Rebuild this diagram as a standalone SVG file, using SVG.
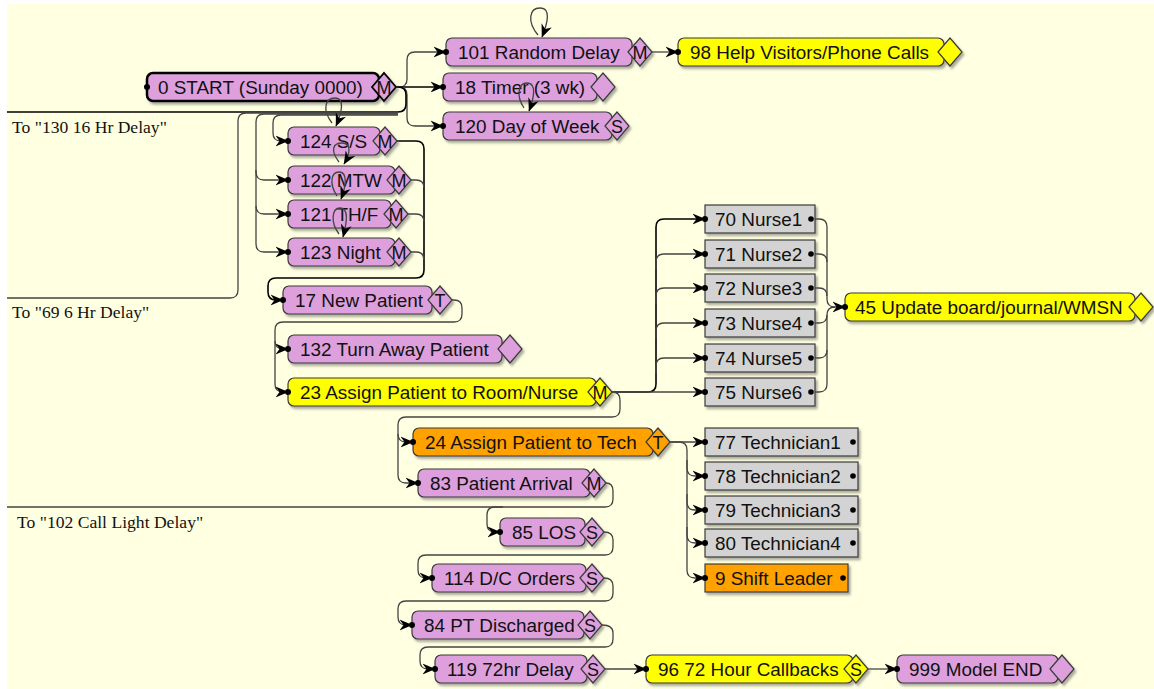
<svg xmlns="http://www.w3.org/2000/svg" width="1154" height="689" viewBox="0 0 1154 689">
  <style>
    .lbl { font-family: "Liberation Sans", Arial, sans-serif; font-size: 18.9px; fill: #111; }
    .port { font-family: "Liberation Sans", Arial, sans-serif; font-size: 18px; fill: #111; text-anchor: middle; }
    .note { font-family: "Liberation Serif", "Times New Roman", serif; font-size: 17.6px; fill: #111; }
    .box { stroke: #3a3a3a; stroke-width: 1.2; }
    .pink { fill: #DDA0DD; }
    .yel { fill: #FFFF00; }
    .org { fill: #FFA200; }
    .gry { fill: #D3D3D3; }
    .dot { fill: #000; }
    .ln { fill: none; stroke: #444; stroke-width: 1.3; }
    .ln.dark { stroke: #000; stroke-width: 1.6; }
  </style>
  <defs>
    <filter id="sh" x="-5%" y="-20%" width="115%" height="160%">
      <feDropShadow dx="2" dy="2.5" stdDeviation="1.2" flood-color="#666" flood-opacity="0.55"/>
    </filter>
    <marker id="arr" viewBox="0 0 14 12" markerWidth="14" markerHeight="12" refX="12.5" refY="6" orient="auto" markerUnits="userSpaceOnUse">
      <path d="M0,0.5 L13,6 L0,11.5 L4,6 Z" fill="#000"/>
    </marker>
  </defs>

  <!-- canvas -->
  <rect x="0" y="0" width="1154" height="689" fill="#fff"/>
  <rect x="7" y="4" width="1147" height="685" fill="#FFFFE1"/>

  <!-- off-page labels -->
  <text class="note" x="12" y="133">To "130 16 Hr Delay"</text>
  <text class="note" x="12" y="318">To "69 6 Hr Delay"</text>
  <text class="note" x="17" y="528">To "102 Call Light Delay"</text>

  <!-- connectors -->
  <g id="connectors">
    <path class="ln" d="M396,87 H399 Q407,87 407,79 V60 Q407,52 415,52 H446" marker-end="url(#arr)"/>
    <path class="ln dark" d="M396,87 H443" marker-end="url(#arr)"/>
    <path class="ln" d="M396,87 H399 Q407,87 407,95 V118 Q407,126 415,126 H443" marker-end="url(#arr)"/>
    <path class="ln dark" d="M396,87 H398 Q406,87 406,95 V104 Q406,112 398,112 H7"/>
    <path class="ln" d="M398,113 H246 Q238,113 238,121 V290 Q238,298 230,298 H7"/>
    <path class="ln" d="M398,114 H264 Q256,114 256,122 V172 Q256,180 264,180 H288" marker-end="url(#arr)"/>
    <path class="ln" d="M256,170 V206 Q256,214 264,214 H288" marker-end="url(#arr)"/>
    <path class="ln" d="M256,206 V244 Q256,252 264,252 H288" marker-end="url(#arr)"/>
    <path class="ln" d="M398,115 H281 Q273,115 273,123 V133 Q273,141 281,141 H288" marker-end="url(#arr)"/>

    <!-- shifts into new patient -->
    <path class="ln dark" d="M397,141 H416 Q424,141 424,149 V270 Q424,278 416,278 H276 Q268,278 268,286 V292 Q268,300 276,300 H283" marker-end="url(#arr)"/>
    <path class="ln" d="M411,180 H416 Q424,180 424,188"/>
    <path class="ln" d="M408,214 H416 Q424,214 424,222"/>
    <path class="ln" d="M411,252 H416 Q424,252 424,260"/>

    <path class="ln" d="M452,300 H454 Q462,300 462,308 V314 Q462,322 454,322 H283 Q275,322 275,330 V341 Q275,349 283,349 H288" marker-end="url(#arr)"/>
    <path class="ln" d="M275,341 V384 Q275,392 283,392 H288" marker-end="url(#arr)"/>

    <!-- nurse assignment -->
    <path class="ln dark" d="M612,392 H648 Q656,392 656,384 V227 Q656,219 664,219 H705" marker-end="url(#arr)"/>
    <path class="ln" d="M612,392 H705" marker-end="url(#arr)"/>
    <path class="ln" d="M656,270 V262 Q656,254 664,254 H705" marker-end="url(#arr)"/>
    <path class="ln" d="M656,304 V296 Q656,288 664,288 H705" marker-end="url(#arr)"/>
    <path class="ln" d="M656,339 V331 Q656,323 664,323 H705" marker-end="url(#arr)"/>
    <path class="ln" d="M656,374 V366 Q656,358 664,358 H705" marker-end="url(#arr)"/>

    <path class="ln" d="M811,219 H819 Q827,219 827,227 V299 Q827,307 835,307 H845" marker-end="url(#arr)"/>
    <path class="ln" d="M811,254 H819 Q827,254 827,262"/>
    <path class="ln" d="M811,288 H819 Q827,288 827,296"/>
    <path class="ln" d="M811,323 H819 Q827,323 827,315"/>
    <path class="ln" d="M811,358 H819 Q827,358 827,350"/>
    <path class="ln" d="M811,392 H819 Q827,392 827,384 V315 Q827,307 835,307"/>

    <!-- technician assignment -->
    <path class="ln" d="M612,392 Q620,392 620,400 V409 Q620,417 612,417 H406 Q398,417 398,425 V434 Q398,442 406,442 H413" marker-end="url(#arr)"/>
    <path class="ln" d="M398,434 V475 Q398,483 406,483 H418" marker-end="url(#arr)"/>

    <path class="ln" d="M670,442 H705" marker-end="url(#arr)"/>
    <path class="ln" d="M670,442 H679 Q687,442 687,450 V570 Q687,578 695,578 H705" marker-end="url(#arr)"/>
    <path class="ln" d="M687,460 V468 Q687,476 695,476 H705" marker-end="url(#arr)"/>
    <path class="ln" d="M687,494 V502 Q687,510 695,510 H705" marker-end="url(#arr)"/>
    <path class="ln" d="M687,527 V535 Q687,543 695,543 H705" marker-end="url(#arr)"/>

    <!-- patient flow -->
    <path class="ln" d="M606,483 Q613,483 613,491 V499 Q613,507 605,507 H7"/>
    <path class="ln" d="M503,507 H495 Q487,507 487,515 V524 Q487,532 495,532 H500" marker-end="url(#arr)"/>
    <path class="ln" d="M604,532 Q613,532 613,540 V547 Q613,555 605,555 H426 Q418,555 418,563 V570 Q418,578 426,578 H432" marker-end="url(#arr)"/>
    <path class="ln" d="M604,578 Q613,578 613,586 V593 Q613,601 605,601 H406 Q398,601 398,609 V617 Q398,625 406,625 H412" marker-end="url(#arr)"/>
    <path class="ln" d="M602,625 Q613,625 613,633 V639 Q613,647 605,647 H428 Q420,647 420,655 V661 Q420,669 428,669 H435" marker-end="url(#arr)"/>
    <path class="ln" d="M605,669 H646" marker-end="url(#arr)"/>
    <path class="ln" d="M868,669 H897" marker-end="url(#arr)"/>
    <path class="ln" d="M652,52 H678" marker-end="url(#arr)"/>
  </g>

  <!-- nodes -->
  <g id="n0">
    <g filter="url(#sh)">
      <rect class="pink" x="147" y="73" width="232" height="28" rx="6" stroke="#000" stroke-width="2.5"/>
      <polygon class="pink" points="372,87 384,73 396,87 384,101" stroke="#000" stroke-width="1.8"/>
    </g>
    <text class="lbl" x="158" y="94">0 START (Sunday 0000)</text>
    <text class="port" x="384" y="93.5">M</text>
    <circle class="dot" cx="147" cy="87" r="3"/>
  </g>

  <g id="n101">
    <g filter="url(#sh)">
      <rect class="pink box" x="446" y="38" width="186" height="28" rx="6"/>
      <polygon class="pink box" points="628,52 640,38 652,52 640,66"/>
    </g>
    <text class="lbl" x="458" y="59">101 Random Delay</text>
    <text class="port" x="640" y="58.5">M</text>
    <circle class="dot" cx="446" cy="52" r="3"/>
  </g>

  <g id="n98">
    <g filter="url(#sh)">
      <rect class="yel box" x="678" y="38" width="266" height="28" rx="6"/>
      <polygon class="yel box" points="938,52 950,38 962,52 950,66"/>
    </g>
    <text class="lbl" x="690" y="59">98 Help Visitors/Phone Calls</text>
    <circle class="dot" cx="678" cy="52" r="3"/>
  </g>

  <g id="n18">
    <g filter="url(#sh)">
      <rect class="pink box" x="443" y="73" width="154" height="28" rx="6"/>
      <polygon class="pink box" points="591,87 603,73 615,87 603,101"/>
    </g>
    <text class="lbl" x="455" y="94">18 Timer (3 wk)</text>
    <circle class="dot" cx="443" cy="87" r="3"/>
  </g>

  <g id="n120">
    <g filter="url(#sh)">
      <rect class="pink box" x="443" y="112" width="169" height="28" rx="6"/>
      <polygon class="pink box" points="605,126 617,112 629,126 617,140"/>
    </g>
    <text class="lbl" x="455" y="133">120 Day of Week</text>
    <text class="port" x="617" y="132.5">S</text>
    <circle class="dot" cx="443" cy="126" r="3"/>
  </g>

  <g id="n124">
    <g filter="url(#sh)">
      <rect class="pink box" x="288" y="127" width="92" height="28" rx="6"/>
      <polygon class="pink box" points="373,141 385,127 397,141 385,155"/>
    </g>
    <text class="lbl" x="300" y="148">124 S/S</text>
    <text class="port" x="385" y="147.5">M</text>
    <circle class="dot" cx="288" cy="141" r="3"/>
  </g>

  <g id="n122">
    <g filter="url(#sh)">
      <rect class="pink box" x="288" y="166" width="107" height="28" rx="6"/>
      <polygon class="pink box" points="387,180 399,166 411,180 399,194"/>
    </g>
    <text class="lbl" x="300" y="187">122 MTW</text>
    <text class="port" x="399" y="186.5">M</text>
    <circle class="dot" cx="288" cy="180" r="3"/>
  </g>

  <g id="n121">
    <g filter="url(#sh)">
      <rect class="pink box" x="288" y="200" width="103" height="28" rx="6"/>
      <polygon class="pink box" points="384,214 396,200 408,214 396,228"/>
    </g>
    <text class="lbl" x="300" y="221">121 TH/F</text>
    <text class="port" x="396" y="220.5">M</text>
    <circle class="dot" cx="288" cy="214" r="3"/>
  </g>

  <g id="n123">
    <g filter="url(#sh)">
      <rect class="pink box" x="288" y="238" width="107" height="28" rx="6"/>
      <polygon class="pink box" points="387,252 399,238 411,252 399,266"/>
    </g>
    <text class="lbl" x="300" y="259">123 Night</text>
    <text class="port" x="399" y="258.5">M</text>
    <circle class="dot" cx="288" cy="252" r="3"/>
  </g>

  <g id="n17">
    <g filter="url(#sh)">
      <rect class="pink box" x="283" y="286" width="149" height="28" rx="6"/>
      <polygon class="pink box" points="428,300 440,286 452,300 440,314"/>
    </g>
    <text class="lbl" x="295" y="307">17 New Patient</text>
    <text class="port" x="440" y="306.5">T</text>
    <circle class="dot" cx="283" cy="300" r="3"/>
  </g>

  <g id="n132">
    <g filter="url(#sh)">
      <rect class="pink box" x="288" y="335" width="214" height="28" rx="6"/>
      <polygon class="pink box" points="498,349 510,335 522,349 510,363"/>
    </g>
    <text class="lbl" x="300" y="356">132 Turn Away Patient</text>
    <circle class="dot" cx="288" cy="349" r="3"/>
  </g>

  <g id="n23">
    <g filter="url(#sh)">
      <rect class="yel box" x="288" y="378" width="308" height="28" rx="6"/>
      <polygon class="yel box" points="588,392 600,378 612,392 600,406"/>
    </g>
    <text class="lbl" x="300" y="399">23 Assign Patient to Room/Nurse</text>
    <text class="port" x="600" y="398.5">M</text>
    <circle class="dot" cx="288" cy="392" r="3"/>
  </g>

  <g id="n24">
    <g filter="url(#sh)">
      <rect class="org box" x="413" y="428" width="240" height="28" rx="6"/>
      <polygon class="org box" points="646,442 658,428 670,442 658,456"/>
    </g>
    <text class="lbl" x="425" y="449">24 Assign Patient to Tech</text>
    <text class="port" x="658" y="448.5">T</text>
    <circle class="dot" cx="413" cy="442" r="3"/>
  </g>

  <g id="n83">
    <g filter="url(#sh)">
      <rect class="pink box" x="418" y="469" width="172" height="28" rx="6"/>
      <polygon class="pink box" points="582,483 594,469 606,483 594,497"/>
    </g>
    <text class="lbl" x="430" y="490">83 Patient Arrival</text>
    <text class="port" x="594" y="489.5">M</text>
    <circle class="dot" cx="418" cy="483" r="3"/>
  </g>

  <g id="n85">
    <g filter="url(#sh)">
      <rect class="pink box" x="500" y="518" width="85" height="28" rx="6"/>
      <polygon class="pink box" points="580,532 592,518 604,532 592,546"/>
    </g>
    <text class="lbl" x="512" y="539">85 LOS</text>
    <text class="port" x="592" y="538.5">S</text>
    <circle class="dot" cx="500" cy="532" r="3"/>
  </g>

  <g id="n114">
    <g filter="url(#sh)">
      <rect class="pink box" x="432" y="564" width="154" height="28" rx="6"/>
      <polygon class="pink box" points="580,578 592,564 604,578 592,592"/>
    </g>
    <text class="lbl" x="444" y="585">114 D/C Orders</text>
    <text class="port" x="592" y="584.5">S</text>
    <circle class="dot" cx="432" cy="578" r="3"/>
  </g>

  <g id="n84">
    <g filter="url(#sh)">
      <rect class="pink box" x="412" y="611" width="172" height="28" rx="6"/>
      <polygon class="pink box" points="578,625 590,611 602,625 590,639"/>
    </g>
    <text class="lbl" x="424" y="632">84 PT Discharged</text>
    <text class="port" x="590" y="631.5">S</text>
    <circle class="dot" cx="412" cy="625" r="3"/>
  </g>

  <g id="n119">
    <g filter="url(#sh)">
      <rect class="pink box" x="435" y="655" width="152" height="28" rx="6"/>
      <polygon class="pink box" points="581,669 593,655 605,669 593,683"/>
    </g>
    <text class="lbl" x="447" y="676">119 72hr Delay</text>
    <text class="port" x="593" y="675.5">S</text>
    <circle class="dot" cx="435" cy="669" r="3"/>
  </g>

  <g id="n96">
    <g filter="url(#sh)">
      <rect class="yel box" x="646" y="655" width="207" height="28" rx="6"/>
      <polygon class="yel box" points="844,669 856,655 868,669 856,683"/>
    </g>
    <text class="lbl" x="658" y="676">96 72 Hour Callbacks</text>
    <text class="port" x="856" y="675.5">S</text>
    <circle class="dot" cx="646" cy="669" r="3"/>
  </g>

  <g id="n999">
    <g filter="url(#sh)">
      <rect class="pink box" x="897" y="655" width="161" height="28" rx="6"/>
      <polygon class="pink box" points="1050,669 1062,655 1074,669 1062,683"/>
    </g>
    <text class="lbl" x="909" y="676">999 Model END</text>
    <circle class="dot" cx="897" cy="669" r="3"/>
  </g>

  <!-- nurses -->
  <g id="n70">
    <rect class="gry box" x="705" y="205" width="110" height="28" filter="url(#sh)"/>
    <text class="lbl" x="715" y="226">70 Nurse1</text>
    <circle class="dot" cx="705" cy="219" r="3"/><circle class="dot" cx="811" cy="219" r="2.8"/>
  </g>
  <g id="n71">
    <rect class="gry box" x="705" y="240" width="110" height="28" filter="url(#sh)"/>
    <text class="lbl" x="715" y="261">71 Nurse2</text>
    <circle class="dot" cx="705" cy="254" r="3"/><circle class="dot" cx="811" cy="254" r="2.8"/>
  </g>
  <g id="n72">
    <rect class="gry box" x="705" y="274" width="110" height="28" filter="url(#sh)"/>
    <text class="lbl" x="715" y="295">72 Nurse3</text>
    <circle class="dot" cx="705" cy="288" r="3"/><circle class="dot" cx="811" cy="288" r="2.8"/>
  </g>
  <g id="n73">
    <rect class="gry box" x="705" y="309" width="110" height="28" filter="url(#sh)"/>
    <text class="lbl" x="715" y="330">73 Nurse4</text>
    <circle class="dot" cx="705" cy="323" r="3"/><circle class="dot" cx="811" cy="323" r="2.8"/>
  </g>
  <g id="n74">
    <rect class="gry box" x="705" y="344" width="110" height="28" filter="url(#sh)"/>
    <text class="lbl" x="715" y="365">74 Nurse5</text>
    <circle class="dot" cx="705" cy="358" r="3"/><circle class="dot" cx="811" cy="358" r="2.8"/>
  </g>
  <g id="n75">
    <rect class="gry box" x="705" y="378" width="110" height="28" filter="url(#sh)"/>
    <text class="lbl" x="715" y="399">75 Nurse6</text>
    <circle class="dot" cx="705" cy="392" r="3"/><circle class="dot" cx="811" cy="392" r="2.8"/>
  </g>

  <g id="n45">
    <g filter="url(#sh)">
      <rect class="yel box" x="845" y="293" width="290" height="28" rx="6"/>
      <polygon class="yel box" points="1129,307 1141,293 1153,307 1141,321"/>
    </g>
    <text class="lbl" x="855" y="314">45 Update board/journal/WMSN</text>
    <circle class="dot" cx="845" cy="307" r="3"/>
  </g>

  <!-- technicians -->
  <g id="n77">
    <rect class="gry box" x="705" y="428" width="153" height="28" filter="url(#sh)"/>
    <text class="lbl" x="715" y="449">77 Technician1</text>
    <circle class="dot" cx="705" cy="442" r="3"/><circle class="dot" cx="853" cy="442" r="2.8"/>
  </g>
  <g id="n78">
    <rect class="gry box" x="705" y="462" width="153" height="28" filter="url(#sh)"/>
    <text class="lbl" x="715" y="483">78 Technician2</text>
    <circle class="dot" cx="705" cy="476" r="3"/><circle class="dot" cx="853" cy="476" r="2.8"/>
  </g>
  <g id="n79">
    <rect class="gry box" x="705" y="496" width="153" height="28" filter="url(#sh)"/>
    <text class="lbl" x="715" y="517">79 Technician3</text>
    <circle class="dot" cx="705" cy="510" r="3"/><circle class="dot" cx="853" cy="510" r="2.8"/>
  </g>
  <g id="n80">
    <rect class="gry box" x="705" y="529" width="153" height="28" filter="url(#sh)"/>
    <text class="lbl" x="715" y="550">80 Technician4</text>
    <circle class="dot" cx="705" cy="543" r="3"/><circle class="dot" cx="853" cy="543" r="2.8"/>
  </g>
  <g id="n9">
    <rect class="org box" x="705" y="564" width="143" height="28" filter="url(#sh)"/>
    <text class="lbl" x="715" y="585">9 Shift Leader</text>
    <circle class="dot" cx="705" cy="578" r="3"/><circle class="dot" cx="843" cy="578" r="2.8"/>
  </g>

  <!-- loop connectors, drawn over the boxes they cross -->
  <g id="loop-connectors">
    <path class="ln" d="M538,35 C527,22 529,8 540,8 C551,8 548,22 542,37" marker-end="url(#arr)"/>
    <path class="ln" d="M524,108 C516,96 518,83 527,83 C537,83 534,98 529,111" marker-end="url(#arr)"/>
    <path class="ln" d="M332,123 C322,110 325,98 335,98 C345,98 342,112 336,126" marker-end="url(#arr)"/>
    <path class="ln" d="M339,162 C330,150 333,143 342,143 C352,143 350,154 344,164" marker-end="url(#arr)"/>
    <path class="ln" d="M337,196 C329,184 331,172 339,172 C348,172 346,186 341,199" marker-end="url(#arr)"/>
    <path class="ln" d="M339,234 C330,222 332,208 340,208 C349,208 347,222 343,237" marker-end="url(#arr)"/>
  </g>
</svg>
